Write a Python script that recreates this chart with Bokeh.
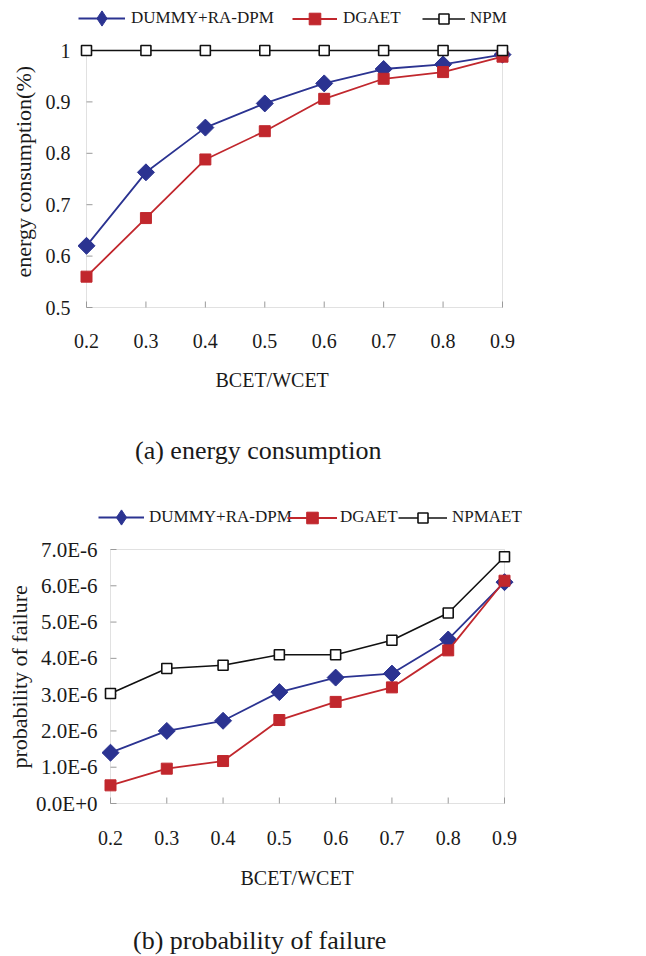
import math
from bokeh.plotting import figure
from bokeh.models import Range1d, FixedTicker, BoxAnnotation, Legend, LegendItem, Title, Div
from bokeh.layouts import column, row
from bokeh.embed import file_html
from bokeh.resources import INLINE

# ---------------- data ----------------
x_vals = [0.2, 0.3, 0.4, 0.5, 0.6, 0.7, 0.8, 0.9]
x_tick_labels = ["0.2", "0.3", "0.4", "0.5", "0.6", "0.7", "0.8", "0.9"]

energy_dummy = [0.620, 0.763, 0.850, 0.897, 0.936, 0.964, 0.973, 0.992]
energy_dgaet = [0.560, 0.674, 0.788, 0.843, 0.906, 0.945, 0.958, 0.988]
energy_npm = [1.0, 1.0, 1.0, 1.0, 1.0, 1.0, 1.0, 1.0]

fail_dummy = [1.40e-6, 2.00e-6, 2.28e-6, 3.07e-6, 3.47e-6, 3.58e-6, 4.52e-6, 6.10e-6]
fail_dgaet = [0.50e-6, 0.96e-6, 1.17e-6, 2.30e-6, 2.80e-6, 3.20e-6, 4.22e-6, 6.14e-6]
fail_npmaet = [3.03e-6, 3.72e-6, 3.81e-6, 4.10e-6, 4.10e-6, 4.50e-6, 5.25e-6, 6.80e-6]

y_ticks_a = [0.5, 0.6, 0.7, 0.8, 0.9, 1.0]
y_tick_labels_a = ["0.5", "0.6", "0.7", "0.8", "0.9", "1"]
y_ticks_b = [0.0, 1e-6, 2e-6, 3e-6, 4e-6, 5e-6, 6e-6, 7e-6]
y_tick_labels_b = ["0.0E+0", "1.0E-6", "2.0E-6", "3.0E-6", "4.0E-6", "5.0E-6", "6.0E-6", "7.0E-6"]

legend_a = ["DUMMY+RA-DPM", "DGAET", "NPM"]
legend_b = ["DUMMY+RA-DPM", "DGAET", "NPMAET"]

caption_a = "(a) energy consumption"
caption_b = "(b) probability of failure"

# ---------------- style ----------------
BLUE = "#2B3391"
RED = "#C1272D"
BLACK = "#111111"
AXIS = "#9a9a9a"
TXT = "#1a1a1a"
SERIF = "Liberation Serif"


def build(width, height, box_w, box_h, pads, left, y_lo, y_hi, y_ticks, y_labels,
          series, names, leg_specs, ylab, ylab_off, ylab_std,
          x_lab_std, y_lab_std, y_font, xlab_off, xlab_std):
    pad_l, pad_r, pad_b, pad_t = pads
    x_lo, x_hi = x_vals[0], x_vals[-1]
    sx = (x_hi - x_lo) / box_w
    sy = (y_hi - y_lo) / box_h
    frame_w = box_w + pad_l + pad_r
    frame_h = box_h + pad_b + pad_t
    p = figure(width=width, height=height,
               x_range=Range1d(x_lo - sx * pad_l, x_hi + sx * pad_r),
               y_range=Range1d(y_lo - sy * pad_b, y_hi + sy * pad_t),
               min_border_left=left, min_border_right=width - left - frame_w,
               min_border_top=0, min_border_bottom=height - frame_h,
               output_backend="svg", toolbar_location=None)
    p.outline_line_color = None
    p.xgrid.visible = False
    p.ygrid.visible = False
    p.background_fill_color = "white"
    p.border_fill_color = "white"

    # plot box (drawn at the data limits)
    p.add_layout(BoxAnnotation(left=x_lo, right=x_hi, bottom=y_lo, top=y_hi,
                               fill_color=None, fill_alpha=0, line_color=AXIS,
                               line_width=1, level="underlay"))
    # inward tick marks on the box
    p.ray(x=x_vals, y=[y_lo] * len(x_vals), length=6, length_units="screen",
          angle=math.pi / 2, line_color=AXIS, line_width=1, level="underlay")
    p.ray(x=[x_lo] * len(y_ticks), y=y_ticks, length=6, length_units="screen",
          angle=0, line_color=AXIS, line_width=1, level="underlay")

    for ax in (p.xaxis[0], p.yaxis[0]):
        ax.axis_line_color = None
        ax.major_tick_line_color = None
        ax.minor_tick_line_color = None
        ax.major_tick_in = 0
        ax.major_tick_out = 0
        ax.major_label_text_font = SERIF
        ax.major_label_text_color = TXT
    p.xaxis.major_label_text_font_size = "20px"
    p.yaxis.major_label_text_font_size = y_font
    p.xaxis.ticker = FixedTicker(ticks=x_vals)
    p.xaxis.major_label_overrides = dict(zip(x_vals, x_tick_labels))
    p.yaxis.ticker = FixedTicker(ticks=y_ticks)
    p.yaxis.major_label_overrides = dict(zip(y_ticks, y_labels))
    p.xaxis.major_label_standoff = x_lab_std
    p.yaxis.major_label_standoff = y_lab_std

    (d, g, n) = series
    l1 = p.line(x_vals, d, line_color=BLUE, line_width=1.8)
    p.scatter(x_vals, d, marker="square", angle=math.pi / 4, size=12,
              fill_color=BLUE, line_color=BLUE)
    l2 = p.line(x_vals, g, line_color=RED, line_width=1.8)
    s2 = p.scatter(x_vals, g, marker="square", size=11, fill_color=RED, line_color=RED)
    l3 = p.line(x_vals, n, line_color=BLACK, line_width=1.6)
    s3 = p.scatter(x_vals, n, marker="square", size=10, fill_color="white",
                   line_color=BLACK, line_width=1.6)
    # legend-only diamond symbol (not a data point: NaN position)
    key1 = p.scatter([float("nan")], [float("nan")], marker="diamond",
                     fill_color=BLUE, line_color=BLUE)

    groups = [[l1, key1], [l2, s2], [l3, s3]]
    for name, rends, (lx, ly, gw, gh, std) in zip(names, groups, leg_specs):
        leg = Legend(items=[LegendItem(label=name, renderers=rends, index=0)],
                     location=(lx, ly), orientation="horizontal",
                     glyph_width=gw, glyph_height=gh, label_height=20,
                     label_standoff=std, spacing=0,
                     padding=0, margin=0, border_line_color=None,
                     background_fill_alpha=0,
                     label_text_font=SERIF, label_text_font_size="17px",
                     label_text_color=TXT)
        p.add_layout(leg)

    p.add_layout(Title(text=ylab, align="left", offset=ylab_off, standoff=ylab_std,
                       text_font=SERIF, text_font_style="normal", text_font_size="22px",
                       text_color=TXT), "left")
    p.add_layout(Title(text="BCET/WCET", align="left", offset=xlab_off, standoff=xlab_std,
                       text_font=SERIF, text_font_style="normal", text_font_size="20px",
                       text_color=TXT), "below")
    return p


def caption(text, height, pad_left, pad_top):
    html = ('<div style="font-family:\'Liberation Serif\',serif;font-size:26px;'
            'line-height:30px;color:%s;white-space:nowrap;margin:0;'
            'padding-left:%dpx;padding-top:%dpx;">%s</div>' % (TXT, pad_left, pad_top, text))
    return Div(text=html, width=640, height=height, margin=0)


pa = build(640, 419, 416, 257, (12, 20, 12, 50), 74, 0.5, 1.0, y_ticks_a, y_tick_labels_a,
           (energy_dummy, energy_dgaet, energy_npm), legend_a,
           [(4, 282, 47, 38, 6), (218, 286.5, 45, 29, 6), (348, 288.5, 43, 25, 5)],
           "energy consumption(%)", 42, 14, 14, 4, "20px", 141, 33)

pb = build(640, 437, 394, 254, (12, 20, 12, 71), 98, 0.0, 7e-6, y_ticks_b, y_tick_labels_b,
           (fail_dummy, fail_dgaet, fail_npmaet), legend_b,
           [(0, 279, 46, 38, 5), (189, 283.5, 50, 29, 3), (300, 285.5, 49, 25, 5)],
           "probability of failure", 47, 4, 15, 1, "21px", 142, 35)

cap_a = caption(caption_a, 59, 135, 17)
cap_b = caption(caption_b, 41, 133, 11)

layout = column(row(pa), cap_a, row(pb), cap_b, spacing=0)
open("out.html", "w").write(file_html(layout, INLINE))
